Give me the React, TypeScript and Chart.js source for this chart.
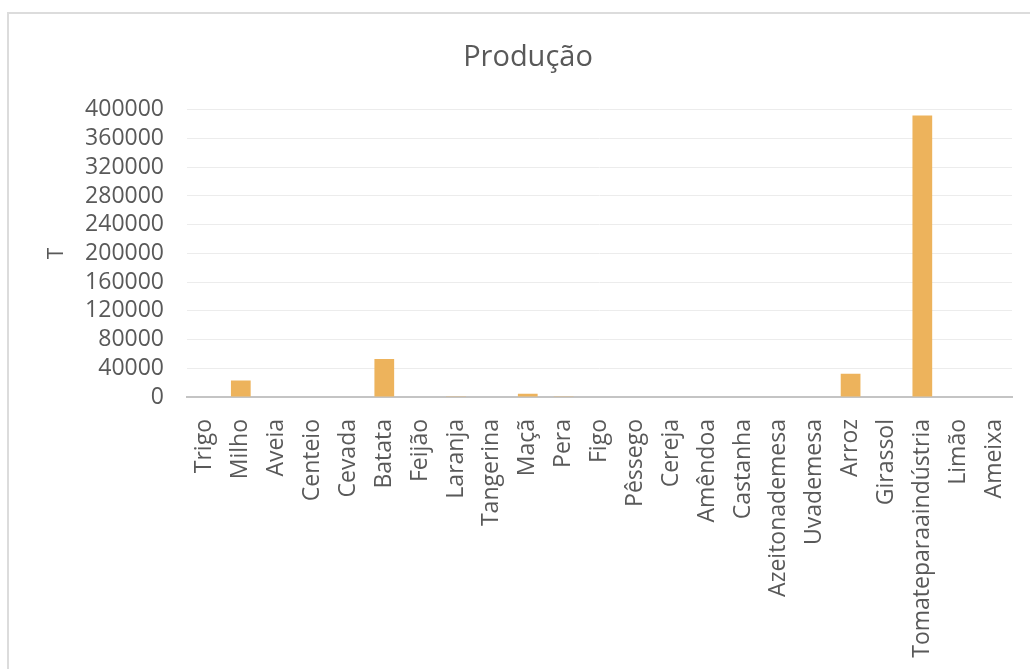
import React, { useEffect, useRef } from "react";
import { Chart, registerables } from "chart.js";

Chart.register(...registerables);

const categories = [
  "Trigo", "Milho", "Aveia", "Centeio", "Cevada", "Batata", "Feijão", "Laranja",
  "Tangerina", "Maçã", "Pera", "Figo", "Pêssego", "Cereja", "Amêndoa", "Castanha",
  "Azeitonademesa", "Uvademesa", "Arroz", "Girassol", "Tomateparaaindústria", "Limão", "Ameixa",
];
const producao = [
  0, 23100, 0, 0, 0, 53000, 0, 900,
  0, 4600, 900, 0, 0, 0, 0, 0,
  0, 0, 32500, 0, 392000, 0, 0,
];
const yMin = 0;
const yMax = 400000;
const yStep = 40000;
const chartTitle = "Produção";
const yAxisTitle = "T";

const W = 1030;
const H = 669;
const FONT = "'Open Sans', 'DejaVu Sans', sans-serif";
const TEXT = "#595959";
const PAD_LEFT = 44;

export default function App() {
  const ref = useRef<HTMLCanvasElement | null>(null);
  useEffect(() => {
    if (!ref.current) return;
    const chart = new Chart(ref.current, {
      type: "bar",
      data: {
        labels: categories,
        datasets: [
          {
            label: chartTitle,
            data: producao,
            backgroundColor: "#EDB35C",
            borderWidth: 0,
            categoryPercentage: 1,
            barPercentage: 0.55,
          },
        ],
      },
      options: {
        responsive: false,
        animation: false,
        devicePixelRatio: 1,
        layout: { padding: { left: PAD_LEFT, right: 18, top: 0, bottom: 0 } },
        plugins: {
          legend: { display: false },
          tooltip: { enabled: false },
          title: {
            display: true,
            text: chartTitle,
            color: TEXT,
            font: { family: FONT, size: 29, weight: "normal" },
            padding: { top: 40, bottom: 35 },
          },
        },
        scales: {
          x: {
            grid: { display: false, drawTicks: false },
            border: { display: true, color: "#c4c4c4", width: 2 },
            ticks: {
              autoSkip: false,
              maxRotation: 90,
              minRotation: 90,
              padding: 22,
              color: TEXT,
              font: { family: FONT, size: 23 },
            },
            afterFit: (scale: any) => {
              scale.height = H - 397;
              scale.paddingLeft = 0;
              scale.paddingRight = 0;
            },
          },
          y: {
            min: yMin,
            max: yMax,
            grid: { color: "#ececec", lineWidth: 1, drawTicks: false },
            border: { display: false },
            ticks: {
              stepSize: yStep,
              autoSkip: false,
              maxTicksLimit: 20,
              padding: 23,
              color: TEXT,
              font: { family: FONT, size: 23, lineHeight: 1 },
              callback: (v: any) => String(v),
            },
            title: {
              display: true,
              text: yAxisTitle,
              color: TEXT,
              padding: 0,
              font: { family: FONT, size: 21 },
            },
            afterFit: (scale: any) => {
              scale.width = 187 - PAD_LEFT;
            },
          },
        },
      },
    });
    return () => chart.destroy();
  }, []);

  return (
    <div
      style={{
        position: "fixed",
        left: 0,
        top: 0,
        width: W,
        height: H,
        overflow: "hidden",
        background: "#ffffff",
      }}
    >
      <div
        style={{
          position: "absolute",
          left: 7,
          top: 12,
          width: W + 20,
          height: H + 20,
          borderLeft: "2px solid #dcdcdc",
          borderTop: "2px solid #dcdcdc",
        }}
      />
      <canvas
        ref={ref}
        width={W}
        height={H}
        style={{ position: "absolute", left: 0, top: 0, width: W, height: H }}
      />
    </div>
  );
}
